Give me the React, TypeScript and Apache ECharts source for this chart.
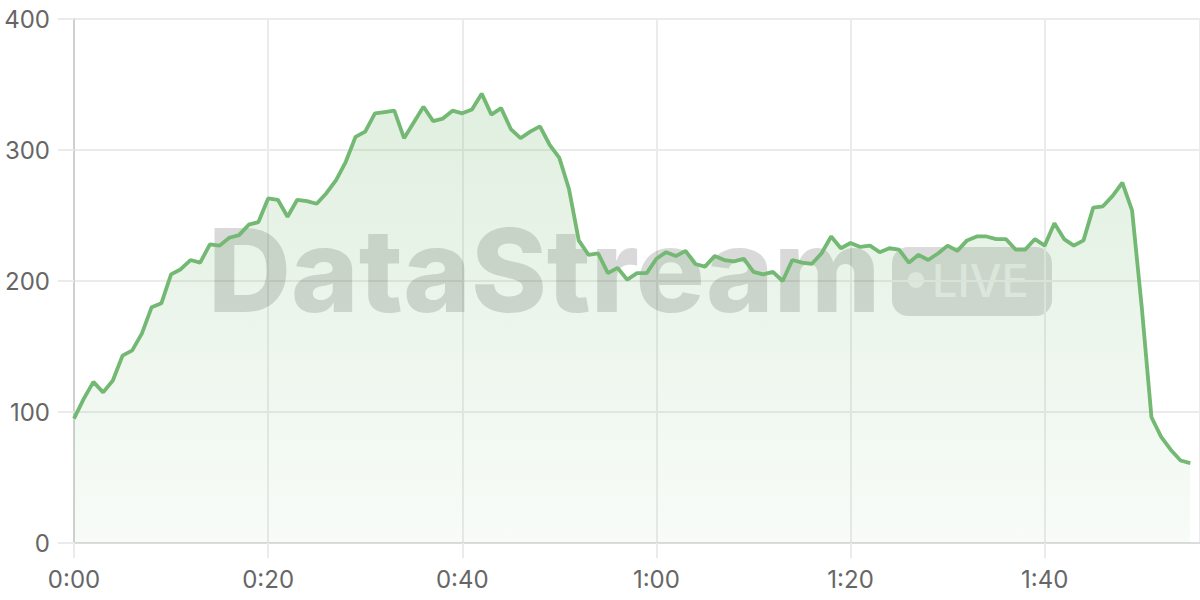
import React, { useEffect, useRef } from 'react';
import * as echarts from 'echarts';

// ============================================================
// Data
// ============================================================

// one sample per second, 0:00 .. 1:55
const throughput: number[] = [
  95, 110, 123, 115, 124, 143, 147, 160, 180, 183,
  205, 209, 216, 214, 228, 227, 233, 235, 243, 245,
  263, 262, 249, 262, 261, 259, 267, 277, 291, 310,
  314, 328, 329, 330, 309, 321, 333, 322, 324, 330,
  328, 331, 343, 327, 332, 316, 309, 314, 318, 304,
  294, 270, 231, 220, 221, 206, 210, 201, 206, 206,
  217, 222, 219, 223, 213, 211, 219, 216, 215, 217,
  207, 205, 207, 200, 216, 214, 213, 221, 234, 225,
  229, 226, 227, 222, 225, 224, 214, 220, 216, 221,
  227, 223, 231, 234, 234, 232, 232, 224, 224, 232,
  227, 244, 232, 227, 231, 256, 257, 265, 275, 254,
  180, 96, 81, 71, 63, 61,
];

const xTicks: number[] = [0, 20, 40, 60, 80, 100];
const yTicks: number[] = [0, 100, 200, 300, 400];

// ============================================================
// Style constants
// ============================================================

const LINE_COLOR = '#73b873';
const GRID_COLOR = '#ebebeb';
const LABEL_COLOR = '#666';
const FONT = 'Inter';

const fmtTime = (v: number) => {
  const m = Math.floor(v / 60);
  const s = Math.round(v % 60);
  return `${m}:${String(s).padStart(2, '0')}`;
};

const App: React.FC = () => {
  const chartRef = useRef<HTMLDivElement>(null);

  useEffect(() => {
    if (!chartRef.current) return;
    const chart = echarts.init(chartRef.current, undefined, { renderer: 'svg' });

    const option: echarts.EChartsOption = {
      animation: false,
      grid: { left: 74, right: 0, top: 19, bottom: 57, containLabel: false },
      // watermark
      graphic: [
        {
          type: 'text',
          z: 1,
          left: 208,
          top: 213,
          silent: true,
          style: {
            text: 'DataStream',
            font: `800 115px ${FONT}`,
            fill: 'rgba(0,0,0,0.15)',
          },
        },
        {
          type: 'group',
          z: 1,
          silent: true,
          children: [
            {
              type: 'rect',
              shape: { x: 892, y: 247, width: 160, height: 69, r: 16 },
              style: { fill: 'rgba(0,0,0,0.14)' },
            },
            {
              type: 'circle',
              shape: { cx: 916, cy: 280, r: 8 },
              style: { fill: 'rgba(255,255,255,0.55)' },
            },
            {
              type: 'text',
              x: 932,
              y: 258,
              style: {
                text: 'LIVE',
                font: `500 45px ${FONT}`,
                fill: 'rgba(255,255,255,0.55)',
              },
            },
          ],
        },
      ],
      xAxis: {
        type: 'value',
        min: 0,
        max: throughput.length,
        interval: xTicks[1] - xTicks[0],
        axisLine: { show: true, onZero: false, lineStyle: { color: '#dcdcdc', width: 2 } },
        axisTick: { show: true, length: 15, lineStyle: { color: GRID_COLOR, width: 2 } },
        splitLine: { show: true, lineStyle: { color: GRID_COLOR, width: 2 } },
        axisLabel: {
          showMaxLabel: false,
          margin: 24,
          color: LABEL_COLOR,
          fontFamily: FONT,
          fontSize: 24,
          formatter: (v: number) => (xTicks.includes(v) ? fmtTime(v) : ''),
        },
      },
      yAxis: {
        type: 'value',
        min: yTicks[0],
        max: yTicks[yTicks.length - 1],
        interval: yTicks[1] - yTicks[0],
        axisLine: { show: true, lineStyle: { color: '#d0d0d0', width: 2 } },
        axisTick: { show: true, length: 16, lineStyle: { color: GRID_COLOR, width: 2 } },
        splitLine: { show: true, lineStyle: { color: GRID_COLOR, width: 2 } },
        axisLabel: {
          margin: 24,
          color: LABEL_COLOR,
          fontFamily: FONT,
          fontSize: 24,
        },
      },
      series: [
        {
          type: 'line',
          data: throughput.map((v, i) => [i, v]),
          showSymbol: false,
          smooth: false,
          z: 3,
          lineStyle: { color: LINE_COLOR, width: 3.8 },
          areaStyle: {
            color: new echarts.graphic.LinearGradient(0, 0, 0, 1, [
              { offset: 0, color: 'rgba(115,184,115,0.32)' },
              { offset: 1, color: 'rgba(115,184,115,0.07)' },
            ]),
          },
        },
      ],
    };

    chart.setOption(option);

    return () => {
      chart.dispose();
    };
  }, []);

  return (
    <div
      ref={chartRef}
      style={{ position: 'fixed', left: 0, top: 0, width: 1200, height: 600, background: '#fff' }}
    />
  );
};

export default App;
